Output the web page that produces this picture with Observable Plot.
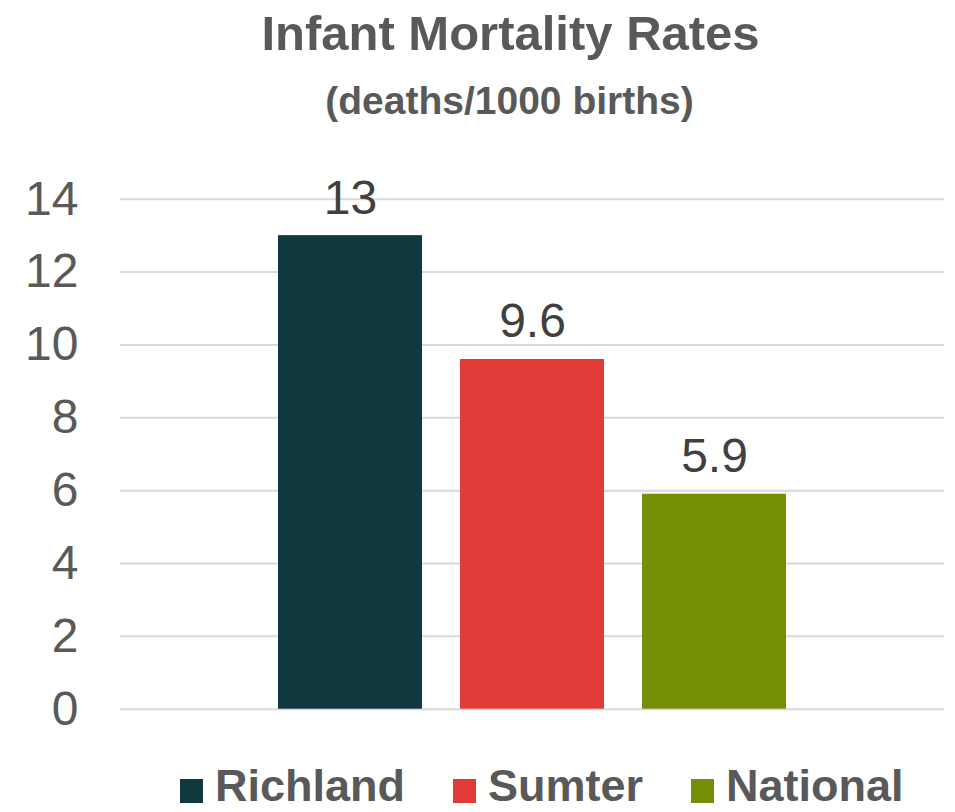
<!DOCTYPE html>
<html>
<head>
<meta charset="utf-8">
<script src="https://cdn.jsdelivr.net/npm/d3@7"></script>
<script src="https://cdn.jsdelivr.net/npm/@observablehq/plot@0.6"></script>
<style>
  html, body { margin: 0; padding: 0; background: #fff; }
  body { width: 955px; height: 812px; overflow: hidden; font-family: "Liberation Sans", Arial, sans-serif; }
  #wrap { position: relative; width: 955px; height: 812px; }
  .title { position: absolute; width: 955px; text-align: center; color: #595959; font-weight: bold; white-space: nowrap; }
  #t1 { top: 3px; left: 33px; font-size: 49px; line-height: 60px; }
  #t2 { top: 76px; left: 32px; font-size: 39px; line-height: 50px; }
  #chart { position: absolute; left: 0; top: 140px; }
  #legend { position: absolute; left: 180px; top: 761px; display: flex; gap: 48px; }
  .item { display: flex; align-items: flex-start; height: 50px; }
  .sw { width: 23px; height: 24px; margin-top: 18px; margin-right: 12px; }
  .lab { font-size: 45px; line-height: 50px; font-weight: bold; color: #595959; }
</style>
</head>
<body>
<div id="wrap">
  <div class="title" id="t1"></div>
  <div class="title" id="t2"></div>
  <div id="chart"></div>
  <div id="legend"></div>
</div>
<script>
const title = "Infant Mortality Rates";
const subtitle = "(deaths/1000 births)";
const regions = ["Richland", "Sumter", "National"];
const rates = [13, 9.6, 5.9];
const labels = ["13", "9.6", "5.9"];
const colors = ["#10383f", "#e23c39", "#748f05"];
const yTicks = [0, 2, 4, 6, 8, 10, 12, 14];

document.getElementById("t1").textContent = title;
document.getElementById("t2").textContent = subtitle;

const data = regions.map((r, i) => ({region: r, rate: rates[i], label: labels[i]}));

const plot = Plot.plot({
  width: 955,
  height: 600,
  marginLeft: 120,
  marginRight: 11,
  marginTop: 58.7,
  marginBottom: 31.3,
  style: {fontFamily: "Liberation Sans, Arial, sans-serif", background: "#fff"},
  x: {domain: regions, paddingInner: 0.2114, paddingOuter: 0.8647, axis: null},
  y: {domain: [0, 14], ticks: yTicks},
  color: {domain: regions, range: colors},
  marks: [
    Plot.ruleY(yTicks, {stroke: "#d9d9d9", strokeWidth: 2}),
    Plot.axisY(yTicks, {tickSize: 0, tickPadding: 42, fontSize: 48, color: "#595959", fill: "#595959", label: null}),
    Plot.barY(data, {x: "region", y: "rate", fill: "region"}),
    Plot.text(data, {x: "region", y: "rate", text: "label", lineAnchor: "bottom", dy: -22, fontSize: 48, fill: "#404040"})
  ]
});
document.getElementById("chart").appendChild(plot);

const legend = document.getElementById("legend");
regions.forEach((r, i) => {
  const item = document.createElement("div");
  item.className = "item";
  const sw = document.createElement("div");
  sw.className = "sw";
  sw.style.background = colors[i];
  const lab = document.createElement("div");
  lab.className = "lab";
  lab.textContent = r;
  item.appendChild(sw);
  item.appendChild(lab);
  legend.appendChild(item);
});
</script>
</body>
</html>
